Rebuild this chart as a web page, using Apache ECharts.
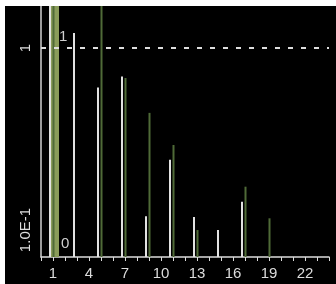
<!DOCTYPE html>
<html>
<head>
<meta charset="utf-8">
<script src="https://cdn.jsdelivr.net/npm/echarts@6/dist/echarts.min.js"></script>
<style>
html,body{margin:0;padding:0;background:#fff;}
#c{position:absolute;left:0;top:0;width:336px;height:284px;}
</style>
</head>
<body>
<div id="c"></div>
<script>
// Harmonic orders
const harmonics = [1,2,3,4,5,6,7,8,9,10,11,12,13,14,15,16,17,18,19,20,21,22,23];
// White series (values below ~0.07 are not visible)
const whiteValues = [5.0,0.02,1.21,0.02,0.607,0.02,0.696,0.02,0.119,0.02,0.243,0.02,0.118,0.02,0.100,0.02,0.143,0.02,0.05,0.02,0.04,0.02,0.03];
// Green series
const greenValues = [5.0,0.02,0.05,0.02,5.0,0.02,0.684,0.02,0.44,0.02,0.293,0.02,0.100,0.02,0.05,0.02,0.173,0.02,0.116,0.02,0.04,0.02,0.03];
// Olive (wide) series
const oliveValues = [5.0,0.02,0.03,0.02,0.03,0.02,0.03,0.02,0.03,0.02,0.03,0.02,0.03,0.02,0.03,0.02,0.03,0.02,0.03,0.02,0.03,0.02,0.03];
// Tick labels
const xTickLabels = [1,4,7,10,13,16,19,22];
const yTickLabels = {1: '1', 0.1: '1.0E-1'};
const refLine = 1;

function toPairs(vals){ return harmonics.map((h,i)=>[h, vals[i]]); }

function makeRender(offset, width, color){
  return function(params, api){
    const x = api.value(0), v = api.value(1);
    if (!(v > 0)) return null;
    const p = api.coord([x, v]);
    const cs = params.coordSys;
    const bottomY = cs.y + cs.height;
    const topY = Math.max(p[1], cs.y);
    if (topY >= bottomY) return null;
    return {type:'rect', shape:{x:p[0]+offset-width/2, y:topY, width:width, height:bottomY-topY}, style:{fill:color}};
  };
}

const chart = echarts.init(document.getElementById('c'), null, {renderer:'canvas'});
chart.setOption({
  backgroundColor:'#000',
  animation:false,
  textStyle:{fontFamily:'Liberation Sans, Arial, sans-serif'},
  grid:{left:41, top:6, right:7, bottom:27},
  graphic:[
    {type:'rect', left:0, top:0, shape:{width:336, height:6}, style:{fill:'#fff'}, z:100},
    {type:'rect', left:0, top:0, shape:{width:5, height:284}, style:{fill:'#fff'}, z:100},
    {type:'text', left:59, top:29, style:{text:'1', fill:'#cfcfcf', font:'15px Liberation Sans, Arial, sans-serif'}, z:50},
    {type:'text', left:61, top:236, style:{text:'0', fill:'#cfcfcf', font:'15px Liberation Sans, Arial, sans-serif'}, z:50}
  ],
  xAxis:{
    type:'value', min:0, max:24, interval:1,
    axisLine:{show:true, lineStyle:{color:'#dcdcdc', width:1.5}},
    axisTick:{show:true, length:4, lineStyle:{color:'#dcdcdc', width:1}},
    axisLabel:{color:'#dcdcdc', fontSize:15, margin:9,
      formatter:function(v){ return xTickLabels.indexOf(Math.round(v))>=0 && Math.abs(v-Math.round(v))<1e-6 ? String(Math.round(v)) : ''; }},
    splitLine:{show:false}
  },
  yAxis:{
    type:'log', logBase:10, min:0.0711, max:1.70,
    axisLine:{show:true, lineStyle:{color:'#cfcfcf', width:1.5}},
    axisTick:{show:false},
    axisLabel:{color:'#dcdcdc', fontSize:15, rotate:90, margin:8, showMinLabel:false, showMaxLabel:false,
      formatter:function(v){
        for (const k in yTickLabels){ if (Math.abs(v-Number(k))<1e-6*Number(k)) return yTickLabels[k]; }
        return '';
      }},
    splitLine:{show:false}
  },
  series:[
    {type:'custom', name:'olive', renderItem:makeRender(2, 8, '#8a9c5a'), data:toPairs(oliveValues), z:2},
    {type:'custom', name:'green', renderItem:makeRender(0.5, 2, '#4f6a37'), data:toPairs(greenValues), z:3},
    {type:'custom', name:'white', renderItem:makeRender(-3, 2, '#e2e2e2'), data:toPairs(whiteValues), z:4,
      markLine:{silent:true, symbol:['none','none'], label:{show:false},
        lineStyle:{type:[5,8], color:'#dedede', width:2},
        data:[{yAxis:refLine}]}}
  ]
});
</script>
</body>
</html>
